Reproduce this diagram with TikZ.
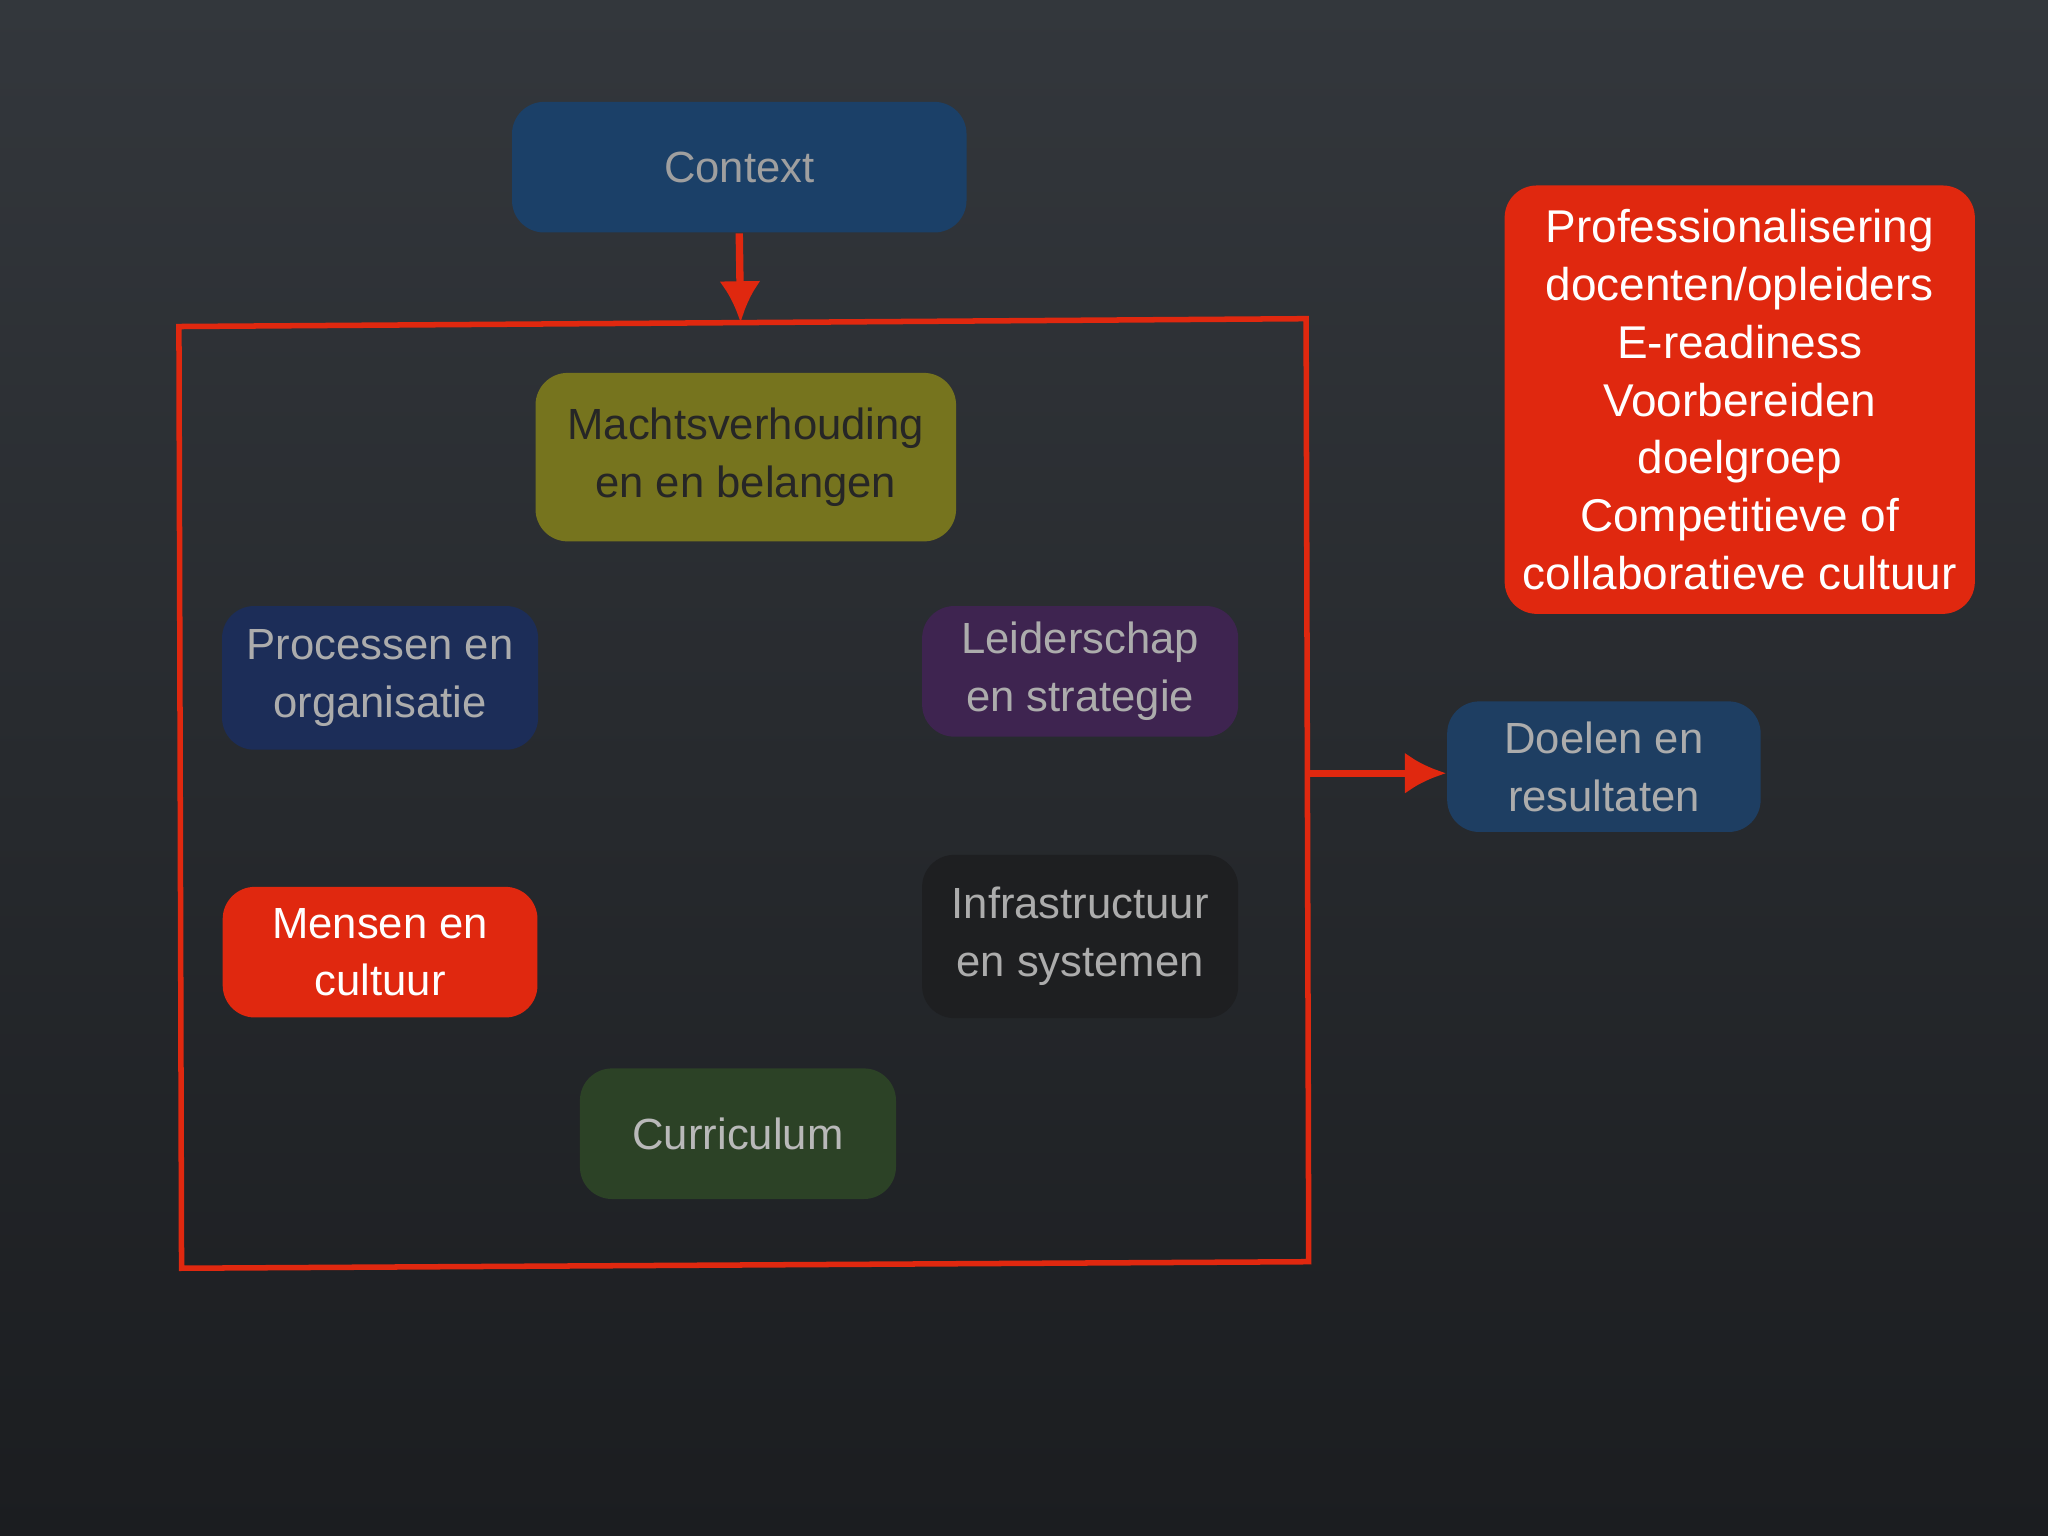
\documentclass[tikz,border=0pt]{standalone}
\usepackage{fontspec}
\setmainfont{Liberation Sans}
\usetikzlibrary{arrows.meta}
\begin{document}
\begin{tikzpicture}[x=0.01cm,y=-0.01cm,
 box/.style={rounded corners=7pt, align=center, font=\fontsize{9.5}{12.6}\selectfont, inner sep=0pt},
 red/.style={draw=none, fill=rd, text=white},
 frame/.style={draw=rd, line width=1.2pt},
 arr/.style={draw=rd, line width=1.6pt, -{Latex[length=9pt,width=9pt]}}]
\definecolor{rd}{HTML}{E0280F}
\definecolor{bgA}{HTML}{33373C}
\definecolor{bgB}{HTML}{1B1D20}
\shade[top color=bgA, bottom color=bgB] (0,0) rectangle (1568,1176);
\useasboundingbox (0,0) rectangle (1568,1176);
\node[box, fill={rgb,255:red,27;green,64;blue,104}, text=gray!75, minimum width=348*0.01cm, minimum height=100*0.01cm] (ctx) at (566,128) {Context};
\node[box, fill={rgb,255:red,118;green,116;blue,30}, text=black!85, minimum width=322*0.01cm, minimum height=129*0.01cm] (mac) at (571,350) {Machtsverhouding\\en en belangen};
\node[box, fill={rgb,255:red,28;green,45;blue,88}, text=gray!65, minimum width=242*0.01cm, minimum height=110*0.01cm] (pro) at (291,519) {Processen en\\organisatie};
\node[box, fill={rgb,255:red,62;green,36;blue,80}, text=gray!65, minimum width=242*0.01cm, minimum height=100*0.01cm] (lei) at (827,514) {Leiderschap\\en strategie};
\node[box, red, minimum width=241*0.01cm, minimum height=100*0.01cm] (men) at (291,729) {Mensen en\\cultuur};
\node[box, fill={rgb,255:red,30;green,31;blue,33}, text=gray!65, minimum width=242*0.01cm, minimum height=125*0.01cm] (inf) at (827,717) {Infrastructuur\\en systemen};
\node[box, fill={rgb,255:red,44;green,66;blue,38}, text=gray!55, minimum width=242*0.01cm, minimum height=100*0.01cm] (cur) at (565,868) {Curriculum};
\node[box, fill={rgb,255:red,30;green,62;blue,98}, text=gray!65, minimum width=240*0.01cm, minimum height=100*0.01cm] (doe) at (1228,587) {Doelen en\\resultaten};
\node[box, red, minimum width=360*0.01cm, minimum height=328*0.01cm, font=\fontsize{10}{12.6}\selectfont] (pr) at (1332,306) {Professionalisering\\docenten/opleiders\\E-readiness\\Voorbereiden\\doelgroep\\Competitieve of\\collaboratieve cultuur};
\coordinate (ftop) at (567,247);
\coordinate (fr) at (1001,592);
\draw[frame] (137,250) -- (1000,244) -- (1002,966) -- (139,971) -- cycle;
\draw[arr] (ctx.south) -- (ftop);
\draw[arr] (fr) -- (fr -| doe.west);
\end{tikzpicture}
\end{document}
